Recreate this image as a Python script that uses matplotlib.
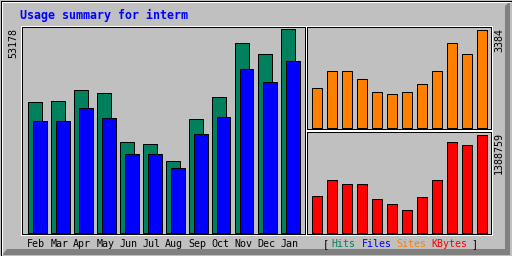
import numpy as np
import matplotlib
matplotlib.use("Agg")
import matplotlib.pyplot as plt
import matplotlib.transforms as mtransforms
from matplotlib.patches import Polygon

# usage summary values
months = ["Feb", "Mar", "Apr", "May", "Jun", "Jul", "Aug", "Sep", "Oct", "Nov", "Dec", "Jan"]
hits = [34056, 34318, 37460, 36674, 23838, 23314, 18861, 29863, 35626, 49772, 46629, 53178]
files = [29339, 29339, 32745, 30125, 20433, 20433, 17027, 25934, 30387, 42961, 39555, 45057]
sites = [1347, 1934, 1968, 1692, 1243, 1174, 1209, 1485, 1934, 2935, 2555, 3384]
kbytes = [524000, 737000, 694000, 694000, 468000, 397000, 312000, 496000, 737000, 1289000, 1233000, 1388759]
title = "Usage summary for interm"

GREY = "#c0c0c0"
SHADOW = "#808080"
C_HITS = "#00805c"
C_FILES = "#0000ff"
C_SITES = "#ff8000"
C_KB = "#ff0000"

W, H = 512, 256
fig = plt.figure(figsize=(W / 100, H / 100), dpi=100, facecolor=GREY)

# canvas axes in pixel units for frames and text
cv = fig.add_axes([0, 0, 1, 1])
cv.set_xlim(0, W)
cv.set_ylim(H, 0)
cv.set_axis_off()

lw = 0.72


def rect(x1, y1, x2, y2, color):
    xs = [x1 + .5, x2 + .5, x2 + .5, x1 + .5, x1 + .5]
    ys = [y1 + .5, y1 + .5, y2 + .5, y2 + .5, y1 + .5]
    cv.plot(xs, ys, color=color, lw=lw, solid_capstyle="projecting", antialiased=False)


# outer border, highlight and shadow
cv.add_patch(Polygon([(2, 255), (510, 255), (510, 1), (505, 6), (505, 249), (7, 249)],
                     closed=True, facecolor=SHADOW, edgecolor="none"))
cv.plot([1.5, 509.5], [1.5, 1.5], color="white", lw=lw, antialiased=False)
cv.plot([1.5, 1.5], [1.5, 253.5], color="white", lw=lw, antialiased=False)
rect(0, 0, 511, 255, "black")

# panel frames (white outer, black inner)
for (x1, y1, x2, y2) in [(20, 25, 305, 234), (305, 25, 491, 129), (305, 130, 491, 234)]:
    rect(x1, y1, x2, y2, "white")
    rect(x1 + 1, y1 + 1, x2 - 1, y2 - 1, "black")


def px_axes(x0, y0, x1, y1):
    a = fig.add_axes([x0 / W, 1 - y1 / H, (x1 - x0) / W, (y1 - y0) / H])
    a.set_axis_off()
    return a


x = np.arange(len(months))

# main panel: hits and files
ax = px_axes(20, 25, 305, 234)
s = max(hits) / 203.0
ax.set_xlim((20 - 27.5) / 23, (305 - 27.5) / 23)
ax.set_ylim(-1.5 * s, 207.5 * s)
ax.bar(x, hits, width=14 / 23, align="edge", color=C_HITS, edgecolor="black", linewidth=lw)
ax.bar(x + 5 / 23, files, width=14 / 23, align="edge", color=C_FILES, edgecolor="black", linewidth=lw)

# top right: sites
ax2 = px_axes(305, 25, 491, 129)
s2 = max(sites) / 98.0
ax2.set_xlim((305 - 311.5) / 15, (491 - 311.5) / 15)
ax2.set_ylim(-1.5 * s2, 102.5 * s2)
ax2.bar(x, sites, width=10 / 15, align="edge", color=C_SITES, edgecolor="black", linewidth=lw)

# bottom right: kbytes
ax3 = px_axes(305, 130, 491, 234)
s3 = max(kbytes) / 98.0
ax3.set_xlim((305 - 311.5) / 15, (491 - 311.5) / 15)
ax3.set_ylim(-1.5 * s3, 102.5 * s3)
ax3.bar(x, kbytes, width=10 / 15, align="edge", color=C_KB, edgecolor="black", linewidth=lw)

mono = "DejaVu Sans Mono"

# title
cv.text(20, 19, title, color=C_FILES, family=mono, fontweight="bold", fontsize=8.4, va="baseline")

# month labels under the main panel
tr = mtransforms.blended_transform_factory(ax.transData, cv.transData)
for i, m in enumerate(months):
    cv.text(i - 0.01, 247, m, transform=tr, family=mono, fontsize=7.2, va="baseline", ha="left")

# max labels, rotated
cv.text(13.5, 28, str(max(hits)), rotation=90, family=mono, fontsize=7.2, ha="center", va="top")
cv.text(499, 28, str(max(sites)), rotation=90, family=mono, fontsize=7.2, ha="center", va="top")
cv.text(499, 132, str(max(kbytes)), rotation=90, family=mono, fontsize=7.2, ha="center", va="top")

# legend
for xp, word, col in [(323, "[", "black"), (331.5, "Hits", C_HITS), (361.5, "Files", C_FILES),
                      (396, "Sites", C_SITES), (431, "KBytes", C_KB), (471, "]", "black")]:
    cv.text(xp, 247, word, color=col, family=mono, fontsize=7.2, va="baseline", ha="left")

fig.savefig("out.png", dpi=100, facecolor=GREY)
